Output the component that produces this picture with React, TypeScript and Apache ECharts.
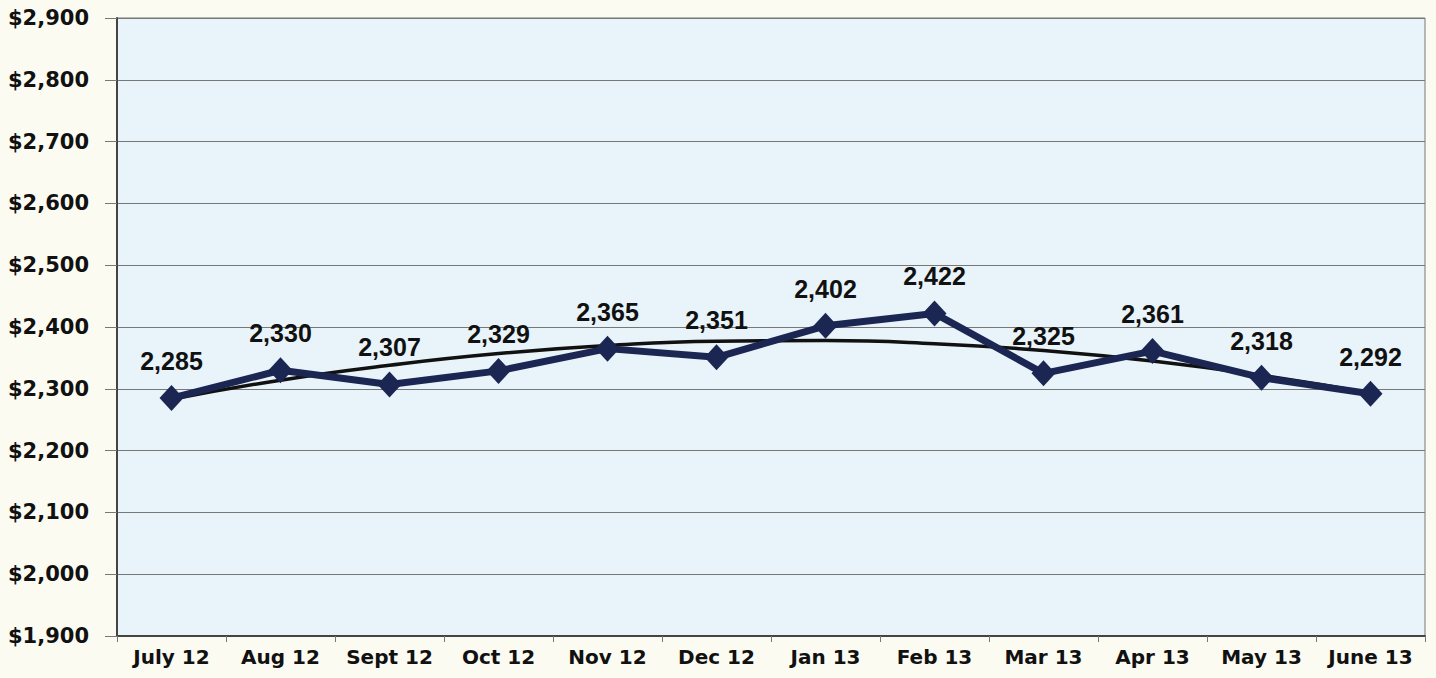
import React, { useEffect, useRef } from "react";
import * as echarts from "echarts";

const categories = ["July 12", "Aug 12", "Sept 12", "Oct 12", "Nov 12", "Dec 12", "Jan 13", "Feb 13", "Mar 13", "Apr 13", "May 13", "June 13"];
const values = [2285, 2330, 2307, 2329, 2365, 2351, 2402, 2422, 2325, 2361, 2318, 2292];
// trend line values
const trend = [2283, 2314, 2338, 2357, 2370, 2377, 2378, 2373, 2362, 2345, 2322, 2293];

export default function App() {
  const ref = useRef<HTMLDivElement>(null);
  useEffect(() => {
    document.body.style.margin = "0";
    document.body.style.background = "#fcfbf1";
    const chart = echarts.init(ref.current!, null, { renderer: "svg" });
    const axisFont = "'DejaVu Sans', sans-serif";
    const labelFont = "'Liberation Sans', Arial, sans-serif";
    chart.setOption({
      animation: false,
      backgroundColor: "#fcfbf1",
      grid: {
        left: 117, right: 11, top: 18, bottom: 42,
        show: true, backgroundColor: "#e8f4fa", borderColor: "#777", borderWidth: 1,
      },
      xAxis: {
        type: "category",
        data: categories,
        boundaryGap: true,
        axisLine: { lineStyle: { color: "#444", width: 2 } },
        axisTick: { show: true, length: 6, lineStyle: { color: "#777" } },
        axisLabel: { color: "#111", fontFamily: axisFont, fontWeight: "bold", fontSize: 20, margin: 11, interval: 0 },
      },
      yAxis: {
        type: "value",
        min: 1900, max: 2900, interval: 100,
        axisLine: { show: true, lineStyle: { color: "#444", width: 2 } },
        axisTick: { show: true, length: 12, lineStyle: { color: "#777" } },
        splitLine: { lineStyle: { color: "#777", width: 1 } },
        axisLabel: {
          color: "#111", fontFamily: axisFont, fontWeight: "bold", fontSize: 21, margin: 28,
          formatter: (v: number) => "$" + v.toLocaleString("en-US"),
        },
      },
      series: [
        {
          type: "line",
          data: trend,
          symbol: "none",
          smooth: true,
          lineStyle: { color: "#111", width: 3.5 },
          z: 3,
        },
        {
          type: "line",
          data: values,
          symbol: "diamond",
          symbolSize: [24, 26],
          itemStyle: { color: "#1b2652" },
          lineStyle: { color: "#1b2652", width: 7 },
          label: {
            show: true,
            position: "top",
            distance: 11,
            color: "#111",
            fontFamily: labelFont,
            fontWeight: "bold",
            fontSize: 25,
            lineHeight: 26,
            formatter: (p: any) => p.value.toLocaleString("en-US"),
          },
          z: 4,
        },
      ],
    });
    return () => chart.dispose();
  }, []);
  return <div ref={ref} style={{ width: 1436, height: 678 }} />;
}
